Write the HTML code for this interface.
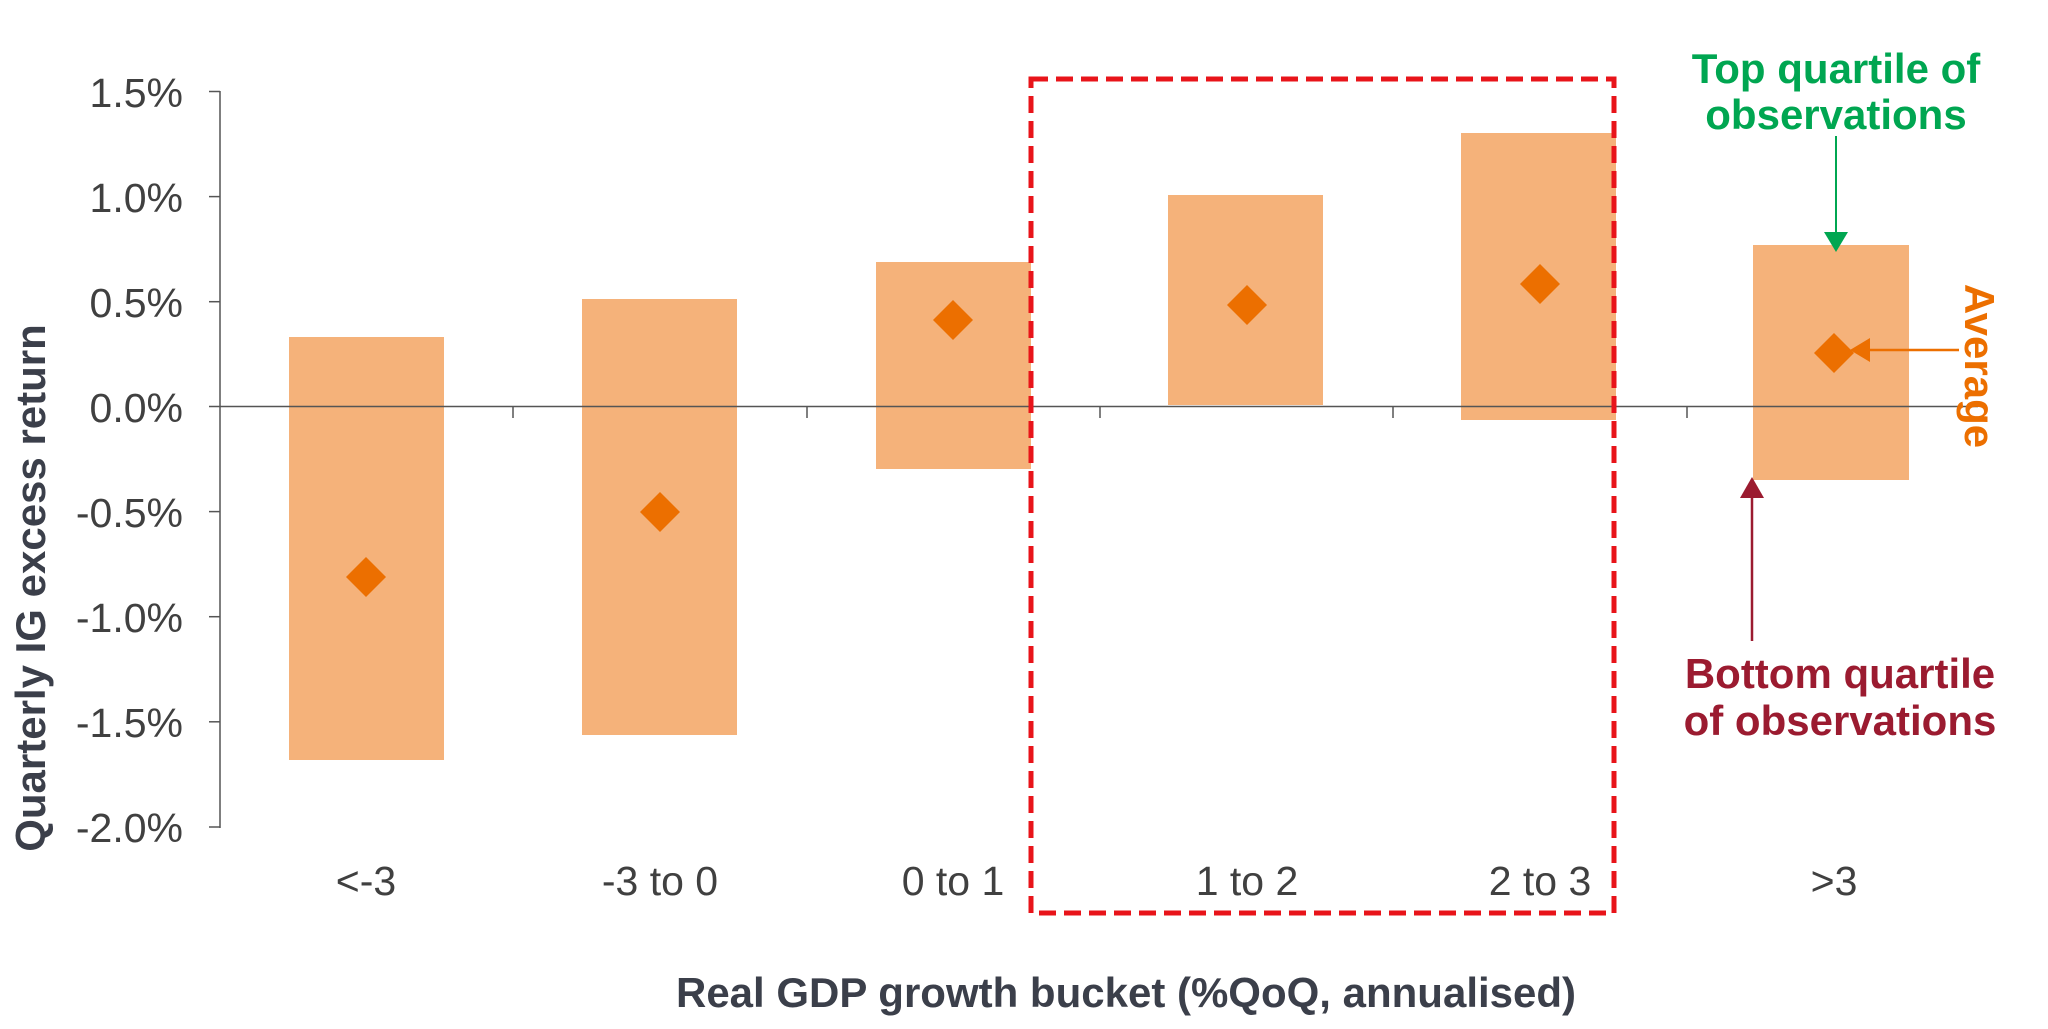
<!DOCTYPE html>
<html><head><meta charset="utf-8"><style>
html,body{margin:0;padding:0;background:#fff;}
svg{display:block;}
text{font-family:"Liberation Sans",Arial,sans-serif;}
</style></head><body>
<svg width="2048" height="1029" viewBox="0 0 2048 1029" xmlns="http://www.w3.org/2000/svg">
<g fill="#f5b27a">
<rect x="289" y="337" width="155" height="423"/>
<rect x="582" y="299" width="155" height="436"/>
<rect x="876" y="262" width="155" height="207"/>
<rect x="1168" y="195" width="155" height="210"/>
<rect x="1461" y="133" width="155" height="287"/>
<rect x="1753" y="245" width="156" height="235"/>
</g>
<g stroke="#555" stroke-width="1.5" fill="none">
<line x1="220" y1="91" x2="220" y2="828"/>
<line x1="220" y1="406.5" x2="1978" y2="406.5"/>
<line x1="209" y1="91.5" x2="220" y2="91.5"/>
<line x1="209" y1="196.6" x2="220" y2="196.6"/>
<line x1="209" y1="301.7" x2="220" y2="301.7"/>
<line x1="209" y1="406.5" x2="220" y2="406.5"/>
<line x1="209" y1="511.6" x2="220" y2="511.6"/>
<line x1="209" y1="616.7" x2="220" y2="616.7"/>
<line x1="209" y1="721.8" x2="220" y2="721.8"/>
<line x1="209" y1="827" x2="220" y2="827"/>
<line x1="513" y1="406.5" x2="513" y2="418"/>
<line x1="807" y1="406.5" x2="807" y2="418"/>
<line x1="1100" y1="406.5" x2="1100" y2="418"/>
<line x1="1393" y1="406.5" x2="1393" y2="418"/>
<line x1="1687" y1="406.5" x2="1687" y2="418"/>
</g>
<g fill="#ec6f00">
<polygon points="366,557 386,577 366,597 346,577"/>
<polygon points="660,492 680,512 660,532 640,512"/>
<polygon points="953,300 973,320 953,340 933,320"/>
<polygon points="1247,285 1267,305 1247,325 1227,305"/>
<polygon points="1540,264 1560,284 1540,304 1520,284"/>
<polygon points="1834,333 1854,353 1834,373 1814,353"/>
</g>
<g font-size="41" fill="#404040" text-anchor="end">
<text x="183" y="107">1.5%</text>
<text x="183" y="212">1.0%</text>
<text x="183" y="317">0.5%</text>
<text x="183" y="422">0.0%</text>
<text x="183" y="527">-0.5%</text>
<text x="183" y="632">-1.0%</text>
<text x="183" y="737">-1.5%</text>
<text x="183" y="842">-2.0%</text>
</g>
<g font-size="41" fill="#404040" text-anchor="middle">
<text x="366" y="895">&lt;-3</text>
<text x="660" y="895">-3 to 0</text>
<text x="953" y="895">0 to 1</text>
<text x="1247" y="895">1 to 2</text>
<text x="1540" y="895">2 to 3</text>
<text x="1834" y="895">&gt;3</text>
</g>
<text x="1126" y="1007" font-size="42" font-weight="bold" fill="#3b3f4a" text-anchor="middle">Real GDP growth bucket (%QoQ, annualised)</text>
<text transform="translate(45,588) rotate(-90)" font-size="42" font-weight="bold" fill="#3b3f4a" text-anchor="middle">Quarterly IG excess return</text>
<rect x="1031" y="79" width="583" height="834" fill="none" stroke="#e8141a" stroke-width="5" stroke-dasharray="17,8"/>
<g font-size="42" font-weight="bold" text-anchor="middle">
<text x="1836" y="83" fill="#00a651">Top quartile of</text>
<text x="1836" y="129" fill="#00a651">observations</text>
<text x="1840" y="688" fill="#9b1b30">Bottom quartile</text>
<text x="1840" y="735" fill="#9b1b30">of observations</text>
<text transform="translate(1965,366) rotate(90)" fill="#ec6f00">Average</text>
</g>
<line x1="1836" y1="136" x2="1836" y2="236" stroke="#00a651" stroke-width="2"/>
<polygon points="1824,232 1848,232 1836,252" fill="#00a651"/>
<line x1="1959" y1="350" x2="1866" y2="350" stroke="#ec6f00" stroke-width="2.5"/>
<polygon points="1870,338 1870,362 1850,350" fill="#ec6f00"/>
<line x1="1752" y1="641" x2="1752" y2="494" stroke="#9b1b30" stroke-width="2.5"/>
<polygon points="1740,498 1764,498 1752,477" fill="#9b1b30"/>
</svg>
</body></html>
